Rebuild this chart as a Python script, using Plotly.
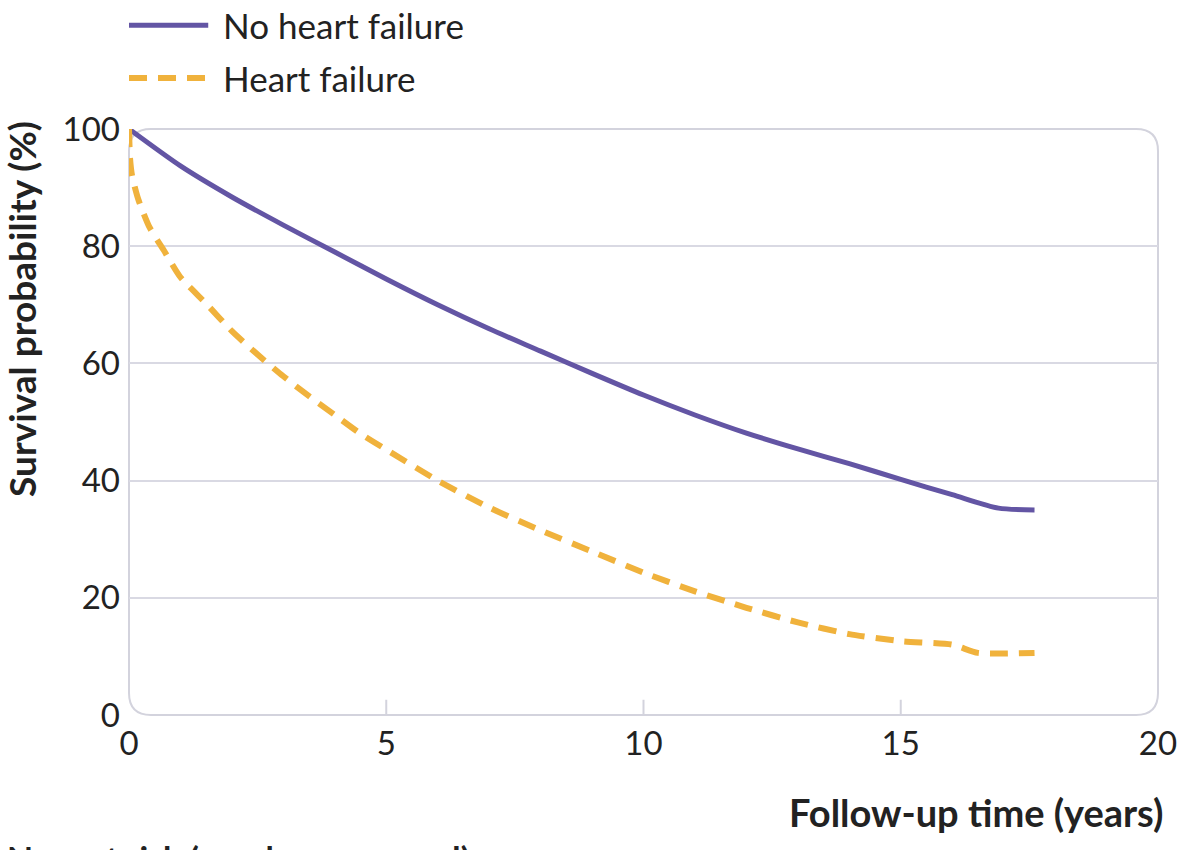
import plotly.graph_objects as go

# Data
years_no_hf = [0, 1, 2, 3, 4, 5, 6, 7, 8, 9, 10, 11, 12, 13, 14, 15, 16, 16.9, 17.6]
surv_no_hf = [100, 93.7, 88.4, 83.6, 79, 74.4, 70, 65.9, 62.1, 58.3, 54.6, 51.2, 48.1, 45.4, 42.9, 40.2, 37.6, 35.3, 35]

years_hf = [0, 0.02, 0.06, 0.18, 0.4, 0.67, 1, 1.5, 2, 2.5, 3, 3.5, 4, 4.5, 5, 6, 7, 8, 9, 10,
            11, 12, 13, 14, 15, 16, 16.5, 17.6]
surv_hf = [100, 95, 92, 88, 83.2, 79.4, 74.7, 70.2, 65.5, 61.5, 57.8, 54.4, 51.2, 48, 45.3, 40.0, 35.4, 31.5, 27.9, 24.3,
           21.1, 18.3, 15.8, 13.8, 12.6, 12.0, 10.6, 10.6]

x_ticks = [0, 5, 10, 15, 20]
x_minor = [5, 10, 15]
y_ticks = [0, 20, 40, 60, 80, 100]
names = ["No heart failure", "Heart failure"]

PURPLE = "#6355A4"
ORANGE = "#F0B23C"
GRID = "#D9D9E3"
FRAME = "#D3D3DD"
FONT = "Lato"
TXT = "#222222"

fig = go.Figure()
fig.add_trace(go.Scatter(x=years_no_hf, y=surv_no_hf, mode="lines", name=names[0],
                         line=dict(color=PURPLE, width=5, shape="spline", smoothing=0.7)))
fig.add_trace(go.Scatter(x=years_hf, y=surv_hf, mode="lines", name=names[1],
                         line=dict(color=ORANGE, width=6, dash="18px,11px", shape="spline", smoothing=0.6)))

# rounded plot frame (paper coordinates span the plot area)
rx, ry = 0.0214, 0.0375
path = (f"M {rx},0 L {1-rx},0 Q 1,0 1,{ry} L 1,{1-ry} Q 1,1 {1-rx},1 "
        f"L {rx},1 Q 0,1 0,{1-ry} L 0,{ry} Q 0,0 {rx},0 Z")
fig.add_shape(type="path", path=path, xref="paper", yref="paper",
              line=dict(color=FRAME, width=2), layer="below")

# inside tick marks at the inner x ticks
for v in x_minor:
    fig.add_shape(type="line", xref="x", yref="y domain", x0=v, x1=v, y0=0, y1=0.026,
                  line=dict(color=FRAME, width=2), layer="below")

# manual legend
leg_y = [1.177, 1.087]
leg_style = [dict(color=PURPLE, width=5), dict(color=ORANGE, width=6, dash="18px,11px")]
for i in range(2):
    fig.add_shape(type="line", xref="paper", yref="paper", x0=0.0, x1=0.077,
                  y0=leg_y[i], y1=leg_y[i], line=leg_style[i])
    fig.add_annotation(xref="paper", yref="paper", x=0.0895, y=leg_y[i], text=names[i],
                       showarrow=False, xanchor="left", yanchor="middle",
                       font=dict(family=FONT, size=35, color=TXT))

fig.add_annotation(xref="paper", yref="paper", x=-0.104, y=0.693, text="<b>Survival probability (%)</b>",
                   textangle=-90, showarrow=False, xanchor="center", yanchor="middle",
                   font=dict(family=FONT, size=37, color=TXT))
fig.add_annotation(xref="paper", yref="paper", x=1.0068, y=-0.1655, text="<b>Follow-up time (years)</b>",
                   showarrow=False, xanchor="right", yanchor="middle",
                   font=dict(family=FONT, size=38, color=TXT))
fig.add_annotation(xref="paper", yref="paper", x=-0.1205, y=-0.206, text="<b>Num at risk (number censored)</b>",
                   showarrow=False, xanchor="left", yanchor="top",
                   font=dict(family=FONT, size=34, color=TXT))

fig.update_layout(
    width=1179, height=850,
    margin=dict(l=129, r=21, t=129, b=135, autoexpand=False),
    paper_bgcolor="white", plot_bgcolor="white",
    showlegend=False,
    xaxis=dict(range=[0, 20], tickvals=x_ticks, ticktext=[str(v) for v in x_ticks],
               showgrid=False, zeroline=False, showline=False, ticks="", automargin=False,
               tickfont=dict(family=FONT, size=33, color=TXT), ticklabelstandoff=6),
    yaxis=dict(range=[0, 100], tickvals=y_ticks, ticktext=[str(v) for v in y_ticks],
               showgrid=True, gridcolor=GRID, gridwidth=2, zeroline=False, showline=False, ticks="",
               automargin=False,
               tickfont=dict(family=FONT, size=33, color=TXT), ticklabelstandoff=8),
)

fig.write_html("out.html", config={"responsive": False, "displayModeBar": False},
               post_script="document.body.style.margin='0';document.body.style.overflow='hidden';")
